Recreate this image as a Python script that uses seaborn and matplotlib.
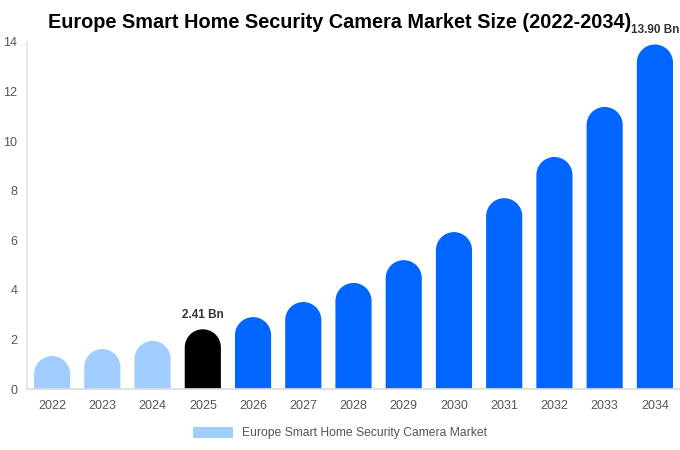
import matplotlib
matplotlib.use("Agg")
import matplotlib.pyplot as plt
from matplotlib.patches import PathPatch, Patch
from matplotlib.path import Path
import seaborn as sns
import numpy as np
import pandas as pd

years = ["2022", "2023", "2024", "2025", "2026", "2027", "2028",
         "2029", "2030", "2031", "2032", "2033", "2034"]
market_size = [1.33, 1.61, 1.94, 2.41, 2.90, 3.51, 4.28,
               5.20, 6.33, 7.70, 9.36, 11.38, 13.90]
bar_colors = ["#a0cdfd"] * 3 + ["#000000"] + ["#0066ff"] * 9
labelled = {"2025": "2.41 Bn", "2034": "13.90 Bn"}

sns.set_theme(style="white")
plt.rcParams['font.family'] = ['Liberation Sans', 'DejaVu Sans']

W, H = 680, 450
fig = plt.figure(figsize=(W / 100, H / 100), dpi=100)
ax = fig.add_axes([27 / W, 1 - 389 / H, (680 - 27) / W, (389 - 42) / H])

df = pd.DataFrame({"year": years, "size": market_size})
sns.barplot(data=df, x="year", y="size", hue="year", palette=bar_colors,
            width=0.72, saturation=1, legend=False, ax=ax)

ax.set_xlim(-0.5, len(years) - 0.5)
ax.set_ylim(0, 14)

# swap each bar for one with a round top (half bar width, in px)
px_x = (680 - 27) / len(years)
px_y = (389 - 42) / 14
arc = Path.arc(0, 180)
for p in list(ax.patches):
    x, w, h = p.get_x(), p.get_width(), p.get_height()
    ry = (w / 2) * px_x / px_y
    cx, cy = x + w / 2, h - ry
    av = np.column_stack([cx + (w / 2) * arc.vertices[:, 0],
                          cy + ry * arc.vertices[:, 1]])
    verts = np.vstack([[[x, 0], [x + w, 0]], av, [[x, 0]]])
    codes = ([Path.MOVETO, Path.LINETO, Path.LINETO] + list(arc.codes[1:])
             + [Path.CLOSEPOLY])
    ax.add_patch(PathPatch(Path(verts, codes), facecolor=p.get_facecolor(),
                           edgecolor="none"))
    p.remove()

for i, y in enumerate(years):
    if y in labelled:
        ax.text(i, market_size[i] + 0.33, labelled[y], ha="center", va="bottom",
                fontsize=8.5, fontweight="bold", color="#333333", clip_on=False)

ax.set_yticks(range(0, 15, 2))
ax.tick_params(axis="both", length=0, labelsize=9, colors="#555555")
ax.tick_params(axis="x", pad=8)
ax.tick_params(axis="y", pad=7)
ax.set_xlabel("")
ax.set_ylabel("")
for side in ["top", "right"]:
    ax.spines[side].set_visible(False)
ax.spines["left"].set_color("#e6e6e6")
ax.spines["bottom"].set_color("#dddddd")

fig.text(0.5, 1 - 22 / H, "Europe Smart Home Security Camera Market Size (2022-2034)",
         ha="center", va="center", fontsize=14.3, fontweight="bold", color="#000000")

handle = Patch(facecolor="#a0cdfd", edgecolor="none")
fig.legend([handle], ["Europe Smart Home Security Camera Market"],
           loc="center", bbox_to_anchor=(0.5, 1 - 433 / H), frameon=False,
           fontsize=8.7, handlelength=3.3, handleheight=1.0,
           labelcolor="#555555")

fig.savefig("out.png", dpi=100)
